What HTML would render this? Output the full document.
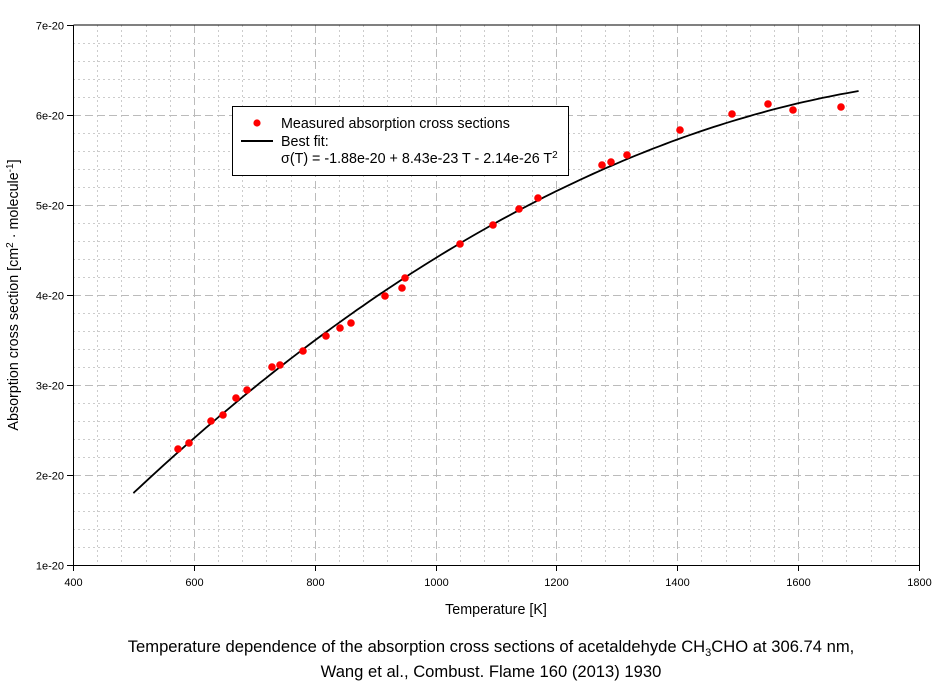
<!DOCTYPE html>
<html><head><meta charset="utf-8"><style>
body{margin:0;background:#fff}
svg{display:block;font-family:"Liberation Sans",Arial,sans-serif}
</style></head><body>
<svg width="944" height="684" viewBox="0 0 944 684" xmlns="http://www.w3.org/2000/svg">
<g id="grid"></g>
<g stroke="#000" stroke-width="1" fill="none">
<path d="M73.5 25V565.5H919.5V25H73.5"/>
</g>
<g id="ticks" stroke="#000"></g>
<g id="labels" font-size="11" fill="#000"></g>
<path id="curve" fill="none" stroke="#000" stroke-width="1.8"/>
<g id="pts" fill="#f00"></g>
<rect x="232.5" y="106.5" width="336" height="69" fill="#fff" stroke="#000"/>
<circle cx="257" cy="123" r="3.6" fill="#f00"/>
<line x1="241" y1="141" x2="273" y2="141" stroke="#000" stroke-width="2"/>
<text x="281" y="128" font-size="14.3">Measured absorption cross sections</text>
<text x="281" y="146" font-size="14.3">Best fit:</text>
<text x="281" y="163" font-size="14.3">σ(T) = -1.88e-20 + 8.43e-23 T - 2.14e-26 T<tspan dy="-5" font-size="10">2</tspan></text>
<text x="496" y="614" font-size="14.3" text-anchor="middle">Temperature [K]</text>
<text transform="translate(18,295) rotate(-90)" font-size="14.3" text-anchor="middle">Absorption cross section [cm<tspan dy="-5" font-size="10">2</tspan><tspan dy="5"> · molecule</tspan><tspan dy="-5" font-size="10">-1</tspan><tspan dy="5">]</tspan></text>
<text x="491" y="652" font-size="16.6" text-anchor="middle">Temperature dependence of the absorption cross sections of acetaldehyde CH<tspan dy="4" font-size="11">3</tspan><tspan dy="-4">CHO at 306.74 nm,</tspan></text>
<text x="491" y="677" font-size="16.6" text-anchor="middle">Wang et al., Combust. Flame 160 (2013) 1930</text>
</svg>
<script>
const X=T=>73+(T-400)*846/1400, Y=v=>565-(v-1)*90;
const ns="http://www.w3.org/2000/svg";
function el(p,n,a){const e=document.createElementNS(ns,n);for(const k in a)e.setAttribute(k,a[k]);p.appendChild(e);return e;}
const g=document.getElementById('grid'),tk=document.getElementById('ticks'),lb=document.getElementById('labels');
for(let T=440;T<1800;T+=40){const x=Math.round(X(T))+.5;const maj=T%200==0;
el(g,'line',{x1:x,x2:x,y1:25,y2:565,stroke:maj?'#bbb':'#ccc','stroke-dasharray':maj?'8,4':'2,3'});}
for(let v=1.2;v<7;v+=0.2){const y=Math.round(Y(v))+.5;const maj=Math.abs(v-Math.round(v))<1e-6;
el(g,'line',{x1:73,x2:919,y1:y,y2:y,stroke:maj?'#bbb':'#ccc','stroke-dasharray':maj?'8,4':'2,3'});}
for(let T=400;T<=1800;T+=200){const x=Math.round(X(T))+.5;el(tk,'line',{x1:x,x2:x,y1:565,y2:571});
const t=el(lb,'text',{x:x,y:586,'text-anchor':'middle'});t.textContent=T;}
for(let v=1;v<=7;v++){const y=Math.round(Y(v))+.5;el(tk,'line',{x1:67,x2:73,y1:y,y2:y});
const t=el(lb,'text',{x:64,y:y+4,'text-anchor':'end'});t.textContent=v+'e-20';}
let d='';for(let T=500;T<=1700;T+=10){const v=-1.88+8.43e-3*T-2.14e-6*T*T;d+=(T==500?'M':'L')+X(T).toFixed(1)+' '+Y(v).toFixed(1);}
document.getElementById('curve').setAttribute('d',d);
const P=[[178,449],[189,443],[211,421],[223,415],[236,398],[247,390],[272,367],[280,365],[303,351],[326,336],[340,328],[351,323],[385,296],[402,288],[405,278],[460,244],[493,225],[519,209],[538,198],[602,165],[611,162],[627,155],[680,130],[732,114],[768,104],[793,110],[841,107]];
const pg=document.getElementById('pts');P.forEach(p=>el(pg,'circle',{cx:p[0],cy:p[1],r:3.8}));
</script>
</body></html>
